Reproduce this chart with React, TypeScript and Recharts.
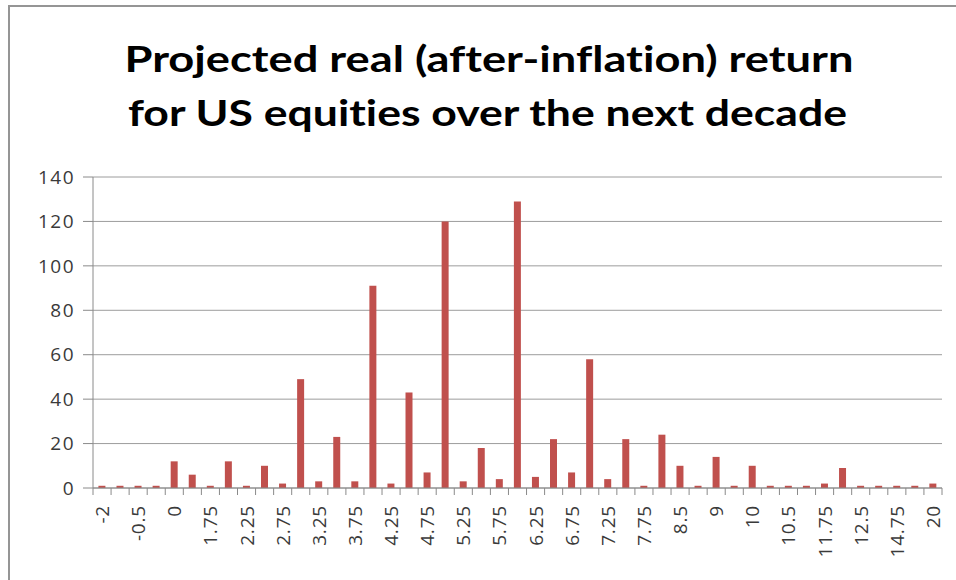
import React from 'react';
import { BarChart, Bar, XAxis, YAxis, CartesianGrid } from 'recharts';

// Return buckets (%, real, annualised) and how many projections land in each
const returnBuckets: string[] = [
  '-2', '-1', '-0.5', '-0.25', '0', '1', '1.75', '2', '2.25', '2.5',
  '2.75', '3', '3.25', '3.5', '3.75', '4', '4.25', '4.5', '4.75', '5',
  '5.25', '5.5', '5.75', '6', '6.25', '6.5', '6.75', '7', '7.25', '7.5',
  '7.75', '8', '8.5', '8.75', '9', '9.5', '10', '10.25', '10.5', '11',
  '11.75', '12', '12.5', '13', '14.75', '15', '20',
];

const projectionCounts: number[] = [
  1, 1, 1, 1, 12, 6, 1, 12, 1, 10,
  2, 49, 3, 23, 3, 91, 2, 43, 7, 120,
  3, 18, 4, 129, 5, 22, 7, 58, 4, 22,
  1, 24, 10, 1, 14, 1, 10, 1, 1, 1,
  2, 9, 1, 1, 1, 1, 2,
];

const countTicks: number[] = [0, 20, 40, 60, 80, 100, 120, 140];

const titleLines: string[] = [
  'Projected real (after-inflation) return',
  'for US equities over the next decade',
];

const data = returnBuckets.map((bucket, i) => ({ bucket, count: projectionCounts[i] }));

// Chart geometry
const WIDTH = 956;
const HEIGHT = 580;
const MARGIN = { top: 177, right: 14, left: 0, bottom: 0 };
const Y_AXIS_WIDTH = 93;
const X_AXIS_HEIGHT = 92;
const X_TICK_SIZE = 7;
const X_TICK_MARGIN = 10;
const PLOT_LEFT = MARGIN.left + Y_AXIS_WIDTH;
const PLOT_RIGHT = WIDTH - MARGIN.right;
const BAND = (PLOT_RIGHT - PLOT_LEFT) / returnBuckets.length;

const AXIS_COLOR = '#8a8a8a';
const TEXT_COLOR = '#3a3a3a';
const FONT = '"Open Sans", "Liberation Sans", sans-serif';

// Excel-style category axis: tick marks sit between categories,
// labels are rotated and shown on every other category.
const BucketTick = (props: any) => {
  const { x, y, payload, index } = props;
  const axisY = y - X_TICK_SIZE - X_TICK_MARGIN;
  const half = BAND / 2;
  const last = index === returnBuckets.length - 1;
  return (
    <g>
      <line x1={x - half} x2={x - half} y1={axisY} y2={axisY + X_TICK_SIZE} stroke={AXIS_COLOR} strokeWidth={1} />
      {last && (
        <line x1={x + half} x2={x + half} y1={axisY} y2={axisY + X_TICK_SIZE} stroke={AXIS_COLOR} strokeWidth={1} />
      )}
      {index % 2 === 0 && (
        <text
          x={x}
          y={y}
          transform={`rotate(-90 ${x} ${y})`}
          textAnchor="end"
          dominantBaseline="central"
          fontFamily={FONT}
          fontSize={19}
          letterSpacing={0.8}
          fill={TEXT_COLOR}
        >
          {payload.value}
        </text>
      )}
    </g>
  );
};

export default function App() {
  return (
    <div style={{ position: 'absolute', left: 0, top: 0, width: WIDTH, height: HEIGHT, background: '#ffffff', overflow: 'hidden' }}>
      <svg width={WIDTH} height={170} style={{ position: 'absolute', left: 0, top: 0 }}>
        {/* frame edges */}
        <line x1={9} x2={WIDTH} y1={6} y2={6} stroke="#959595" strokeWidth={2} />
        <line x1={9} x2={9} y1={5} y2={HEIGHT} stroke="#959595" strokeWidth={2} />
        {titleLines.map((line, i) => (
          <text
            key={line}
            x={489 - i * 1.5}
            y={72 + i * 54}
            textAnchor="middle"
            fontFamily='Lato, "Open Sans", sans-serif'
            fontWeight={700}
            fontSize={37}
            fill="#000000"
            textLength={i === 0 ? 729 : 719}
            lengthAdjust="spacingAndGlyphs"
            style={{ fontVariantLigatures: 'none' }}
          >
            {line}
          </text>
        ))}
      </svg>
      <div style={{ position: 'absolute', left: 8, top: 170, width: 2, height: HEIGHT - 170, background: '#959595' }} />

      <div style={{ position: 'absolute', left: 0, top: 0 }}>
        <BarChart width={WIDTH} height={HEIGHT} data={data} margin={MARGIN} barCategoryGap="30%">
          <CartesianGrid vertical={false} stroke="#9c9c9c" strokeWidth={1} />
          <XAxis
            dataKey="bucket"
            interval={0}
            height={X_AXIS_HEIGHT}
            tickLine={false}
            tickSize={X_TICK_SIZE}
            tickMargin={X_TICK_MARGIN}
            axisLine={{ stroke: AXIS_COLOR, strokeWidth: 1 }}
            tick={<BucketTick />}
          />
          <YAxis
            width={Y_AXIS_WIDTH}
            domain={[0, 140]}
            ticks={countTicks}
            interval={0}
            tickSize={10}
            tickMargin={8}
            tickLine={{ stroke: AXIS_COLOR }}
            axisLine={{ stroke: AXIS_COLOR, strokeWidth: 1 }}
            tick={{ fontFamily: FONT, fontSize: 19, fill: TEXT_COLOR, letterSpacing: 1.5 }}
          />
          <Bar dataKey="count" fill="#C0504D" isAnimationActive={false} />
        </BarChart>
      </div>
    </div>
  );
}
